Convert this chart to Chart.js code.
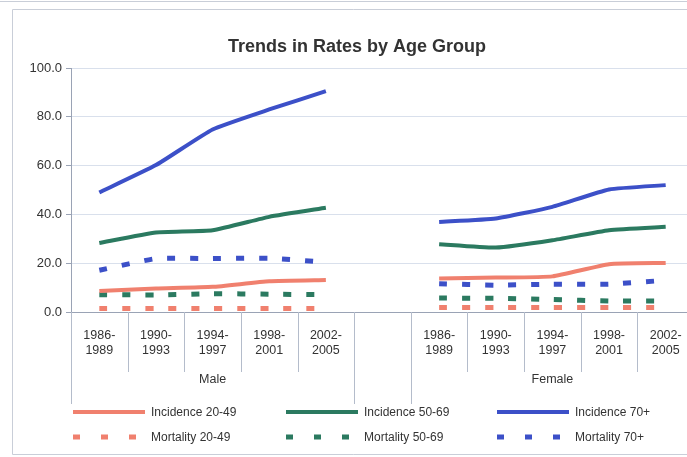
<!DOCTYPE html>
<html>
<head>
<meta charset="utf-8">
<script src="https://cdn.jsdelivr.net/npm/chart.js@4.4.0/dist/chart.umd.min.js"></script>
<style>
  html, body { margin: 0; padding: 0; background: #fff; overflow: hidden; }
  #wrap { position: relative; width: 687px; height: 457px; overflow: hidden; }
</style>
</head>
<body>
<div id="wrap"><canvas id="myChart" width="694" height="457"></canvas></div>
<script>
// categories: 5 periods for Male, an empty slot, 5 periods for Female
var periods = [["1986-", "1989"], ["1990-", "1993"], ["1994-", "1997"], ["1998-", "2001"], ["2002-", "2005"]];
var groups = ["Male", "Female"];
var labels = periods.concat([""], periods);

// values (null = gap between the groups)
var incidence2049 = [8.6, 9.6, 10.3, 12.6, 13.1, null, 13.7, 14.1, 14.6, 19.6, 20.1];
var incidence5069 = [28.3, 32.6, 33.5, 39.0, 42.7, null, 27.8, 26.4, 29.4, 33.5, 34.9];
var incidence70 = [49.0, 60.2, 74.8, 83.0, 90.5, null, 36.9, 38.3, 43.1, 50.2, 52.0];
var mortality2049 = [1.4, 1.4, 1.4, 1.4, 1.4, null, 1.8, 1.8, 1.8, 1.8, 1.8];
var mortality5069 = [7.1, 7.0, 7.5, 7.3, 7.1, null, 5.7, 5.6, 5.1, 4.5, 4.5];
var mortality70 = [17.1, 21.9, 21.9, 22.0, 20.4, null, 11.6, 11.0, 11.4, 11.4, 13.0];

var yTicks = [0, 20, 40, 60, 80, 100];

var red = '#f0806e', green = '#2b7a60', blue = '#3c50c8';
var dash = [8, 15];

function line(label, data, color, dashed) {
    return {
        label: label,
        data: data,
        borderColor: color,
        backgroundColor: color,
        borderWidth: dashed ? 5 : 4,
        borderDash: dashed ? dash : [],
        pointRadius: 0,
        tension: 0.15,
        spanGaps: false,
        fill: false
    };
}

var font = "Arial, 'Liberation Sans', sans-serif";

// title, group labels, separators and the legend
var decorations = {
    id: 'decorations',
    afterDraw: function(chart) {
        var c = chart.ctx, x = chart.scales.x, area = chart.chartArea;
        c.save();
        // frame
        c.strokeStyle = '#c9ced8';
        c.lineWidth = 1;
        c.beginPath();
        c.moveTo(0, 1.5); c.lineTo(694, 1.5);
        c.moveTo(12.5, 9.5); c.lineTo(694, 9.5);
        c.moveTo(12.5, 9.5); c.lineTo(12.5, 454.5);
        c.lineTo(694, 454.5);
        c.stroke();

        // title
        c.fillStyle = '#333';
        c.font = "bold 18px " + font;
        c.textAlign = 'center';
        c.textBaseline = 'middle';
        c.fillText("Trends in Rates by Age Group", 357, 47);

        // separators under the axis
        var step = x.getPixelForValue(1) - x.getPixelForValue(0);
        c.strokeStyle = '#b4bccb';
        c.beginPath();
        for (var i = 0; i <= labels.length; i++) {
            var px = Math.round(x.getPixelForValue(i) - step / 2) + 0.5;
            var long = (i === 0 || i === 5 || i === 6);
            c.moveTo(px, area.bottom);
            c.lineTo(px, area.bottom + (long ? 92 : 60));
        }
        c.stroke();

        // group labels
        c.fillStyle = '#333';
        c.font = "12.5px " + font;
        c.fillText(groups[0], x.getPixelForValue(2), area.bottom + 68);
        c.fillText(groups[1], x.getPixelForValue(8), area.bottom + 68);

        // legend
        var items = chart.data.datasets;
        var cols = [73, 286, 497];
        var rows = [412, 437];
        c.textAlign = 'left';
        c.font = "12px " + font;
        items.forEach(function(ds, k) {
            var col = cols[k % 3], row = rows[Math.floor(k / 3)];
            c.strokeStyle = ds.borderColor;
            c.lineWidth = ds.borderWidth;
            c.setLineDash(ds.borderDash.length ? [7, 21] : []);
            c.beginPath();
            c.moveTo(col, row);
            c.lineTo(col + 72, row);
            c.stroke();
            c.setLineDash([]);
            c.fillStyle = '#333';
            c.fillText(ds.label, col + 78, row + 1);
        });
        c.restore();
    }
};

var ctx = document.getElementById('myChart');
var chart = new Chart(ctx, {
    type: 'line',
    data: {
        labels: labels,
        datasets: [
            line("Incidence 20-49", incidence2049, red, false),
            line("Incidence 50-69", incidence5069, green, false),
            line("Incidence 70+", incidence70, blue, false),
            line("Mortality 20-49", mortality2049, red, true),
            line("Mortality 50-69", mortality5069, green, true),
            line("Mortality 70+", mortality70, blue, true)
        ]
    },
    options: {
        responsive: false,
        animation: false,
        devicePixelRatio: 1,
        layout: { padding: { top: 68, right: 0, bottom: 57, left: 0 } },
        plugins: {
            legend: { display: false },
            title: { display: false },
            tooltip: { enabled: false }
        },
        scales: {
            x: {
                offset: true,
                grid: { display: false },
                border: { color: '#9aa3b5' },
                ticks: {
                    color: '#333',
                    font: { family: font, size: 12.5 },
                    maxRotation: 0,
                    autoSkip: false,
                    padding: 8
                },
                afterFit: function(scale) { scale.height = 88; }
            },
            y: {
                min: 0,
                max: 100,
                afterBuildTicks: function(scale) {
                    scale.ticks = yTicks.map(function(v) { return { value: v }; });
                },
                grid: { color: '#d9e0ec', tickColor: '#9aa3b5', tickLength: 5 },
                border: { color: '#9aa3b5' },
                ticks: {
                    color: '#333',
                    font: { family: font, size: 13 },
                    padding: 4,
                    callback: function(v) { return v.toFixed(1); }
                },
                afterFit: function(scale) { scale.width = 71; }
            }
        }
    },
    plugins: [decorations]
});
</script>
</body>
</html>
